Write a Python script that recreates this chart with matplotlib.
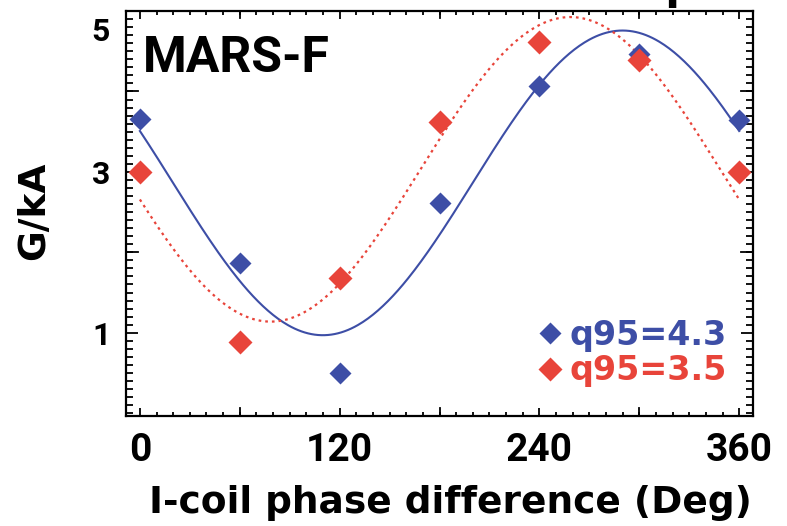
import numpy as np
import matplotlib
matplotlib.use("Agg")
from matplotlib import pyplot as plt
from matplotlib.ticker import MultipleLocator, FixedLocator

plt.rcParams['font.family'] = ['Roboto', 'DejaVu Sans']
plt.rcParams['font.weight'] = 'bold'
plt.rcParams['axes.labelweight'] = 'bold'

# data
phase = np.array([0, 60, 120, 180, 240, 300, 360])
g_q43 = np.array([3.66, 1.87, 0.50, 2.61, 4.07, 4.47, 3.65])
g_q35 = np.array([3.00, 0.89, 1.68, 3.62, 4.61, 4.39, 3.00])
labels = ['q95=4.3', 'q95=3.5']
blue = '#3d4ea6'
red = '#e8443a'


def fit_sin(x, y):
    # least squares fit y = a + b cos x + c sin x (first harmonic)
    r = np.deg2rad(x[:-1])
    A = np.column_stack([np.ones_like(r), np.cos(r), np.sin(r)])
    coef = np.linalg.lstsq(A, y[:-1], rcond=None)[0]
    xf = np.linspace(0, 360, 361)
    rf = np.deg2rad(xf)
    return xf, coef[0] + coef[1]*np.cos(rf) + coef[2]*np.sin(rf)


fig = plt.figure(figsize=(7.87, 5.26), dpi=100)
ax = fig.add_axes([0.160, 0.210, 0.797, 0.769])

xf, yf = fit_sin(phase, g_q43)
ax.plot(xf, yf, color=blue, lw=1.5)
xf, yf = fit_sin(phase, g_q35)
ax.plot(xf, yf, color=red, lw=1.6, dashes=(1.2, 1.8))

ax.plot(phase, g_q43, 'D', color=blue, ms=11.5, mec='none', label=labels[0])
ax.plot(phase, g_q35, 'D', color=red, ms=12, mec='none', label=labels[1])

ax.set_xlim(-8.4, 368.4)
ax.set_ylim(-0.03, 5.0)

ax.xaxis.set_major_locator(FixedLocator([0, 120, 240, 360]))
ax.xaxis.set_minor_locator(MultipleLocator(10))
ax.yaxis.set_major_locator(FixedLocator([1, 3, 5]))
ax.yaxis.set_minor_locator(MultipleLocator(0.1))
ax.set_yticklabels(['1', '3', ''])

# longer ticks every 60 deg and on every integer
for v in [60, 180, 300]:
    ax.axvline(v, ymin=0, ymax=0.018, color='k', lw=1.3)
    ax.axvline(v, ymin=0.982, ymax=1, color='k', lw=1.3)
for v in [2, 4]:
    ax.axhline(v, xmin=0, xmax=0.019, color='k', lw=1.3)
    ax.axhline(v, xmin=0.981, xmax=1, color='k', lw=1.3)

ax.tick_params(axis='both', which='both', direction='in', top=True, right=True, width=1.3)
ax.tick_params(axis='x', which='major', length=5.5, labelsize=28, pad=12)
ax.tick_params(axis='x', which='minor', length=3)
ax.tick_params(axis='y', which='major', length=8.5, labelsize=23, pad=11)
ax.tick_params(axis='y', which='minor', length=5)
for s in ax.spines.values():
    s.set_linewidth(1.6)

ax.annotate('5', xy=(0, 5), xycoords=('axes fraction', 'data'), xytext=(-16, -21),
            textcoords='offset pixels', ha='right', va='center', fontsize=23)

ax.set_xlabel('I-coil phase difference (Deg)', fontsize=27, family=['DejaVu Sans'])
ax.xaxis.set_label_coords(0.518, -0.172)
ax.set_ylabel('G/kA', fontsize=27, family=['DejaVu Sans'])
ax.yaxis.set_label_coords(-0.118, 0.505)

ax.text(0.027, 0.94, 'MARS-F', transform=ax.transAxes, fontsize=36, va='top', ha='left')

leg = ax.legend(loc='lower right', bbox_to_anchor=(0.99, 0.02), frameon=False,
                prop={'size': 24, 'weight': 'bold', 'family': 'DejaVu Sans'},
                handlelength=0.6, handletextpad=0.3, labelspacing=0.08,
                labelcolor='markerfacecolor', borderaxespad=0.2)

# cut-off title descender at the top edge
fig.text(0.864, 1.005, 'p', fontsize=38, ha='center', va='baseline')

fig.savefig('out.png', dpi=100)
